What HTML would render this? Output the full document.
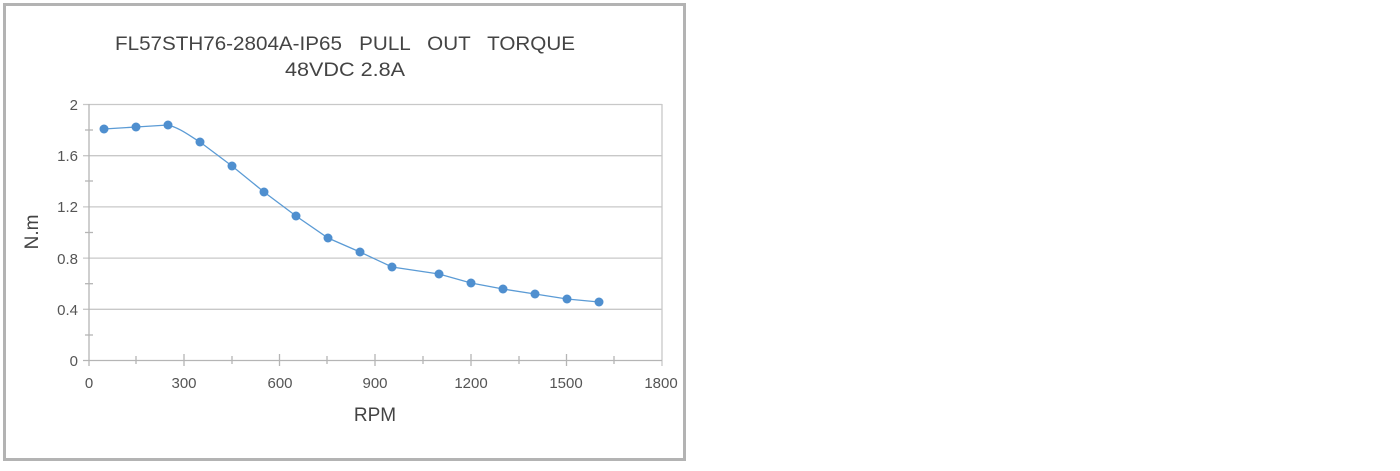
<!DOCTYPE html>
<html><head><meta charset="utf-8"><style>html,body{margin:0;padding:0;background:#fff;}svg{display:block}text{white-space:pre}</style></head>
<body>
<svg width="1400" height="471" xmlns="http://www.w3.org/2000/svg" font-family="'Liberation Sans', sans-serif">
<rect x="0" y="0" width="1400" height="471" fill="#fff"/>
<rect x="4.5" y="4.5" width="680" height="455" fill="none" stroke="#b3b3b3" stroke-width="3"/>
<text x="345" y="50" font-size="19" text-anchor="middle" fill="#444" textLength="460" lengthAdjust="spacingAndGlyphs" xml:space="preserve">FL57STH76-2804A-IP65   PULL   OUT   TORQUE</text>
<text x="345" y="76" font-size="19" text-anchor="middle" fill="#444" textLength="120" lengthAdjust="spacingAndGlyphs">48VDC 2.8A</text>
<g stroke="#c8c8c8" stroke-width="1.3">
<line x1="83" y1="104.5" x2="662" y2="104.5"/>
<line x1="83" y1="155.7" x2="662" y2="155.7"/>
<line x1="83" y1="206.9" x2="662" y2="206.9"/>
<line x1="83" y1="258.1" x2="662" y2="258.1"/>
<line x1="83" y1="309.3" x2="662" y2="309.3"/>
<line x1="662" y1="104" x2="662" y2="366"/>
</g>
<g stroke="#b5b5b5" stroke-width="1.3">
<line x1="83" y1="360.5" x2="662" y2="360.5"/>
<line x1="89" y1="104" x2="89" y2="366"/>
<line x1="85" y1="130" x2="93" y2="130"/><line x1="85" y1="181" x2="93" y2="181"/><line x1="85" y1="232.5" x2="93" y2="232.5"/><line x1="85" y1="283.7" x2="93" y2="283.7"/><line x1="85" y1="335" x2="93" y2="335"/>
<line x1="184" y1="354" x2="184" y2="366"/><line x1="279.5" y1="354" x2="279.5" y2="366"/><line x1="375" y1="354" x2="375" y2="366"/><line x1="471" y1="354" x2="471" y2="366"/><line x1="566.5" y1="354" x2="566.5" y2="366"/>
<line x1="136" y1="356" x2="136" y2="364"/><line x1="232" y1="356" x2="232" y2="364"/><line x1="327" y1="356" x2="327" y2="364"/><line x1="423" y1="356" x2="423" y2="364"/><line x1="519" y1="356" x2="519" y2="364"/><line x1="614" y1="356" x2="614" y2="364"/>
</g>
<g font-size="15" fill="#555" text-anchor="end">
<text x="78" y="110">2</text><text x="78" y="161">1.6</text><text x="78" y="212">1.2</text><text x="78" y="264">0.8</text><text x="78" y="315">0.4</text><text x="78" y="366">0</text>
</g>
<g font-size="15" fill="#555" text-anchor="middle">
<text x="89" y="388">0</text><text x="184" y="388">300</text><text x="280" y="388">600</text><text x="375" y="388">900</text><text x="471" y="388">1200</text><text x="566" y="388">1500</text><text x="661" y="388">1800</text>
</g>
<text x="375" y="421" font-size="19" fill="#444" text-anchor="middle">RPM</text>
<text transform="translate(38,232) rotate(-90)" font-size="19" fill="#444" text-anchor="middle">N.m</text>
<path d="M104,129 L136,127 L168,125 C180,128 190,136 200,142 L232,166 L264,192 L296,216 L328,238 L360,252 L392,267 L439,274 L471,283 L503,289 L535,294 L567,299 L599,302" fill="none" stroke="#5b9bd5" stroke-width="1.3"/>
<g fill="#4f8fcf">
<circle cx="104" cy="129" r="4.5"/><circle cx="136" cy="127" r="4.5"/><circle cx="168" cy="125" r="4.5"/><circle cx="200" cy="142" r="4.5"/><circle cx="232" cy="166" r="4.5"/><circle cx="264" cy="192" r="4.5"/><circle cx="296" cy="216" r="4.5"/><circle cx="328" cy="238" r="4.5"/><circle cx="360" cy="252" r="4.5"/><circle cx="392" cy="267" r="4.5"/><circle cx="439" cy="274" r="4.5"/><circle cx="471" cy="283" r="4.5"/><circle cx="503" cy="289" r="4.5"/><circle cx="535" cy="294" r="4.5"/><circle cx="567" cy="299" r="4.5"/><circle cx="599" cy="302" r="4.5"/>
</g>
</svg>
</body></html>
